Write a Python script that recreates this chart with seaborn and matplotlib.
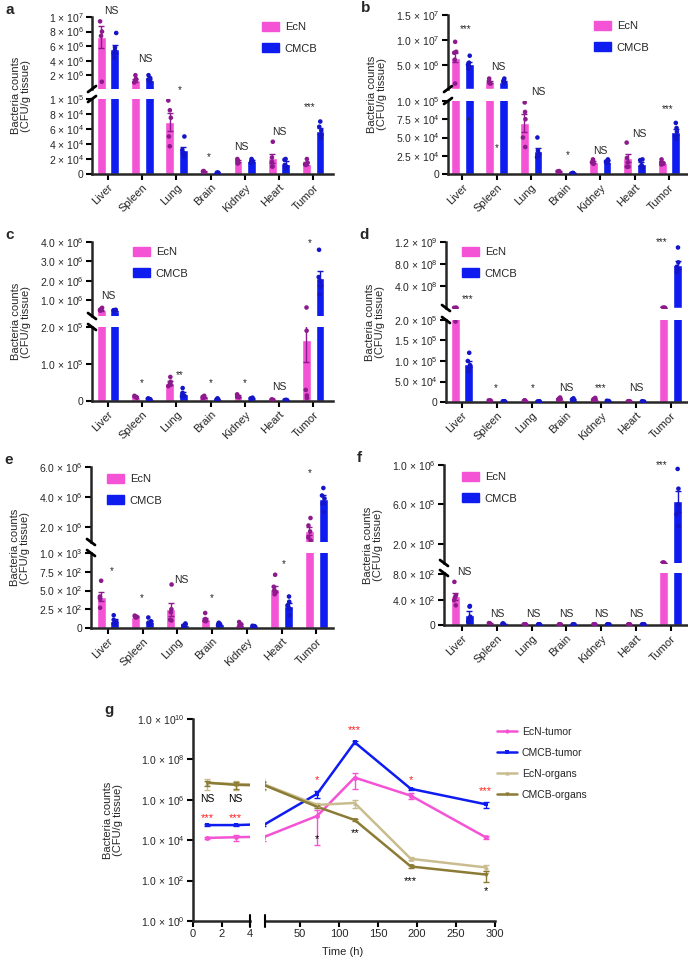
import numpy as np
import pandas as pd
import matplotlib
matplotlib.use("Agg")
import matplotlib.pyplot as plt
import seaborn as sns
from matplotlib.patches import Patch
from matplotlib.lines import Line2D
from matplotlib.ticker import NullLocator

# ------------------------------------------------------------------
# data
# ------------------------------------------------------------------
organs = ["Liver", "Spleen", "Lung", "Brain", "Kidney", "Heart", "Tumor"]
groups = ["EcN", "CMCB"]

# panel a
a_ecn_mean = [7.3e6, 1.3e6, 7.0e4, 3.0e3, 1.7e4, 2.1e4, 1.4e4]
a_cmcb_mean = [5.6e6, 1.3e6, 3.2e4, 1.5e3, 1.7e4, 1.4e4, 5.7e4]
a_ecn_err = [1.5e6, 2e5, 1.2e4, 5e2, 1.5e3, 6e3, 1.5e3]
a_cmcb_err = [5e5, 1.5e5, 4e3, 3e2, 1.5e3, 3e3, 4e3]
a_ecn_pts = [
    [9.4e6, 8.0e6, 7.4e6, 1.1e6],
    [2.0e6, 1.5e6, 1.4e6, 1.2e6, 1.0e6],
    [9.8e4, 8.5e4, 7.5e4, 5.0e4, 3.7e4],
    [4.0e3, 3.5e3, 3.0e3, 2.5e3, 2.0e3],
    [2.0e4, 1.8e4, 1.7e4, 1.5e4, 1.4e4],
    [4.3e4, 2.2e4, 1.6e4, 1.0e4, 1.0e4],
    [2.0e4, 1.5e4, 1.4e4, 1.3e4, 1.2e4],
]
a_cmcb_pts = [
    [7.8e6, 5.8e6, 5.4e6, 5.0e6, 4.4e6],
    [2.0e6, 1.6e6, 1.4e6, 1.3e6, 1.1e6],
    [5.0e4, 3.2e4, 2.8e4, 2.5e4, 2.3e4],
    [2.0e3, 1.5e3, 1.5e3, 1.0e3, 1.0e3],
    [2.0e4, 1.8e4, 1.7e4, 1.6e4, 1.5e4],
    [2.0e4, 1.9e4, 1.2e4, 1.0e4, 8.0e3],
    [7.0e4, 6.3e4, 5.8e4, 5.2e4, 4.8e4],
]

# panel b
b_ecn_mean = [6.4e6, 1.5e6, 7.0e4, 3.0e3, 1.6e4, 2.2e4, 1.5e4]
b_cmcb_mean = [5.2e6, 1.6e6, 3.2e4, 1.0e3, 1.7e4, 1.4e4, 5.7e4]
b_ecn_err = [9e5, 1.5e5, 1.2e4, 5e2, 1.5e3, 6e3, 1.5e3]
b_cmcb_err = [4e5, 1e5, 4e3, 3e2, 1.5e3, 3e3, 4e3]
b_ecn_pts = [
    [9.6e6, 7.6e6, 7.4e6, 6.0e6, 1.2e6],
    [2.2e6, 1.6e6, 1.5e6, 1.3e6, 1.2e6],
    [9.8e4, 8.5e4, 7.5e4, 5.0e4, 3.7e4],
    [4.0e3, 3.5e3, 3.0e3, 2.5e3, 2.0e3],
    [2.0e4, 1.8e4, 1.6e4, 1.5e4, 1.4e4],
    [4.3e4, 2.2e4, 1.6e4, 1.0e4, 1.0e4],
    [2.0e4, 1.6e4, 1.5e4, 1.4e4, 1.3e4],
]
b_cmcb_pts = [
    [6.8e6, 5.4e6, 5.0e6, 4.8e6, 4.2e6],
    [2.2e6, 1.8e6, 1.6e6, 1.5e6, 1.4e6],
    [5.0e4, 3.2e4, 2.8e4, 2.5e4, 2.3e4],
    [1.5e3, 1.2e3, 1.0e3, 8.0e2, 6.0e2],
    [2.0e4, 1.8e4, 1.7e4, 1.6e4, 1.5e4],
    [2.0e4, 1.9e4, 1.2e4, 1.0e4, 8.0e3],
    [7.0e4, 6.3e4, 5.8e4, 5.2e4, 4.8e4],
]

# panel c
c_ecn_mean = [4.9e5, 1.1e4, 4.9e4, 1.0e4, 1.3e4, 3.0e3, 1.65e5]
c_cmcb_mean = [4.6e5, 5.0e3, 1.9e4, 5.0e3, 6.0e3, 2.5e3, 2.15e6]
c_ecn_err = [3e4, 1e3, 5e3, 1e3, 2e3, 5e2, 6e4]
c_cmcb_err = [2e4, 5e2, 4e3, 5e2, 1e3, 3e2, 3.5e5]
c_ecn_pts = [
    [6.2e5, 5.6e5, 5.3e5, 5.0e5, 4.8e5],
    [1.4e4, 1.2e4, 1.1e4, 1.0e4, 9.0e3],
    [6.5e4, 5.2e4, 4.8e4, 4.4e4, 4.0e4],
    [1.4e4, 1.1e4, 1.0e4, 9.0e3, 8.0e3],
    [1.8e4, 1.4e4, 1.3e4, 1.1e4, 1.0e4],
    [4.0e3, 3.5e3, 3.0e3, 2.5e3, 2.0e3],
    [6.5e5, 1.9e5, 3.0e4, 1.5e4, 8.0e3],
]
c_cmcb_pts = [
    [5.2e5, 5.0e5, 4.8e5, 4.6e5, 4.5e5],
    [7.0e3, 6.0e3, 5.0e3, 4.0e3, 4.0e3],
    [3.5e4, 2.2e4, 1.7e4, 1.4e4, 1.2e4],
    [7.0e3, 6.0e3, 5.0e3, 4.0e3, 3.0e3],
    [9.0e3, 7.0e3, 6.0e3, 5.0e3, 4.0e3],
    [3.0e3, 2.5e3, 2.5e3, 2.0e3, 2.0e3],
    [3.6e6, 2.2e6, 2.0e6, 1.7e6, 1.3e6],
]

# panel d
d_ecn_mean = [2.2e6, 3.0e3, 3.0e3, 8.0e3, 7.0e3, 1.5e3, 3.0e6]
d_cmcb_mean = [9.3e4, 1.5e3, 1.0e3, 6.0e3, 2.0e3, 1.0e3, 7.8e8]
d_ecn_err = [4e5, 3e2, 3e2, 1e3, 1e3, 2e2, 3e5]
d_cmcb_err = [8e3, 2e2, 2e2, 1e3, 3e2, 2e2, 7e7]
d_ecn_pts = [
    [3.0e6, 2.8e6, 2.5e6, 2.3e6, 1.98e5],
    [4.0e3, 3.5e3, 3.0e3, 2.5e3, 2.0e3],
    [4.0e3, 3.5e3, 3.0e3, 2.5e3, 2.0e3],
    [1.1e4, 9.0e3, 8.0e3, 7.0e3, 6.0e3],
    [1.0e4, 8.0e3, 7.0e3, 6.0e3, 5.0e3],
    [2.0e3, 1.5e3, 1.5e3, 1.0e3, 1.0e3],
    [3.8e6, 3.3e6, 3.0e6, 2.7e6, 2.2e6],
]
d_cmcb_pts = [
    [1.2e5, 1.0e5, 9.0e4, 8.0e4, 7.5e4],
    [2.0e3, 1.5e3, 1.5e3, 1.0e3, 1.0e3],
    [1.5e3, 1.0e3, 1.0e3, 8.0e2, 8.0e2],
    [9.0e3, 7.0e3, 6.0e3, 5.0e3, 4.0e3],
    [3.0e3, 2.5e3, 2.0e3, 1.5e3, 1.0e3],
    [1.5e3, 1.0e3, 1.0e3, 8.0e2, 8.0e2],
    [1.1e9, 8.3e8, 7.5e8, 7.0e8, 6.5e8],
]

# panel e
e_ecn_mean = [420, 150, 250, 120, 40, 520, 1.75e6]
e_cmcb_mean = [95, 80, 40, 50, 20, 295, 3.85e6]
e_ecn_err = [60, 8, 90, 20, 15, 40, 2.5e5]
e_cmcb_err = [20, 15, 8, 8, 4, 40, 3e5]
e_ecn_pts = [
    [630, 420, 400, 390, 270],
    [165, 155, 150, 145, 140],
    [580, 250, 210, 110, 100],
    [200, 120, 110, 100, 90],
    [80, 50, 30, 20, 20],
    [710, 550, 500, 480, 450],
    [2.6e6, 2.1e6, 1.7e6, 1.3e6, 1.1e6],
]
e_cmcb_pts = [
    [170, 110, 90, 60, 50],
    [140, 90, 70, 60, 50],
    [60, 50, 40, 30, 20],
    [70, 55, 50, 45, 35],
    [30, 25, 20, 15, 10],
    [420, 350, 300, 260, 170],
    [4.6e6, 4.1e6, 3.9e6, 3.6e6, 3.0e6],
]

# panel f
f_ecn_mean = [450, 20, 8, 8, 8, 8, 8.0e3]
f_cmcb_mean = [165, 15, 8, 8, 8, 8, 6.3e5]
f_ecn_err = [60, 4, 1, 1, 1, 1, 5e2]
f_cmcb_err = [50, 3, 1, 1, 1, 1, 1.1e5]
f_ecn_pts = [
    [680, 470, 440, 390, 310],
    [30, 25, 20, 15, 10],
    [10, 9, 8, 7, 6],
    [10, 9, 8, 7, 6],
    [10, 9, 8, 7, 6],
    [10, 9, 8, 7, 6],
    [9.0e3, 8.5e3, 8.0e3, 7.5e3, 7.0e3],
]
f_cmcb_pts = [
    [300, 290, 130, 60, 50],
    [25, 20, 15, 10, 5],
    [10, 9, 8, 7, 6],
    [10, 9, 8, 7, 6],
    [10, 9, 8, 7, 6],
    [10, 9, 8, 7, 6],
    [9.6e5, 7.6e5, 6.0e5, 5.0e5, 3.8e5],
]

# y ticks of the broken axes (top part, bottom part)
a_top_ticks = [2e6, 4e6, 6e6, 8e6, 1e7]
a_top_labels = ["2 × 10$^{6}$", "4 × 10$^{6}$", "6 × 10$^{6}$", "8 × 10$^{6}$", "1 × 10$^{7}$"]
a_bot_ticks = [0, 2e4, 4e4, 6e4, 8e4, 1e5]
a_bot_labels = ["0", "2 × 10$^{4}$", "4 × 10$^{4}$", "6 × 10$^{4}$", "8 × 10$^{4}$", "1 × 10$^{5}$"]
b_top_ticks = [5e6, 1e7, 1.5e7]
b_top_labels = ["5.0 × 10$^{6}$", "1.0 × 10$^{7}$", "1.5 × 10$^{7}$"]
b_bot_ticks = [0, 2.5e4, 5e4, 7.5e4, 1e5]
b_bot_labels = ["0", "2.5 × 10$^{4}$", "5.0 × 10$^{4}$", "7.5 × 10$^{4}$", "1.0 × 10$^{5}$"]
c_top_ticks = [1e6, 2e6, 3e6, 4e6]
c_top_labels = ["1.0 × 10$^{6}$", "2.0 × 10$^{6}$", "3.0 × 10$^{6}$", "4.0 × 10$^{6}$"]
c_bot_ticks = [0, 1e5, 2e5]
c_bot_labels = ["0", "1.0 × 10$^{5}$", "2.0 × 10$^{5}$"]
d_top_ticks = [4e8, 8e8, 1.2e9]
d_top_labels = ["4.0 × 10$^{8}$", "8.0 × 10$^{8}$", "1.2 × 10$^{9}$"]
d_bot_ticks = [0, 5e4, 1e5, 1.5e5, 2e5]
d_bot_labels = ["0", "5.0 × 10$^{4}$", "1.0 × 10$^{5}$", "1.5 × 10$^{5}$", "2.0 × 10$^{5}$"]
e_top_ticks = [2e6, 4e6, 6e6]
e_top_labels = ["2.0 × 10$^{6}$", "4.0 × 10$^{6}$", "6.0 × 10$^{6}$"]
e_bot_ticks = [0, 250, 500, 750, 1000]
e_bot_labels = ["0", "2.5 × 10$^{2}$", "5.0 × 10$^{2}$", "7.5 × 10$^{2}$", "1.0 × 10$^{3}$"]
f_top_ticks = [2e5, 6e5, 1e6]
f_top_labels = ["2.0 × 10$^{5}$", "6.0 × 10$^{5}$", "1.0 × 10$^{6}$"]
f_bot_ticks = [0, 400, 800]
f_bot_labels = ["0", "4.0 × 10$^{2}$", "8.0 × 10$^{2}$"]

# significance marks: (text, category position, value, part)
a_notes = [("NS", 0.1, 1.08e7, "t"), ("NS", 1.08, 4.2e6, "t"), ("*", 2.1, 1.12e5, "b"),
           ("*", 2.95, 2.2e4, "b"), ("NS", 3.9, 3.6e4, "b"), ("NS", 5.0, 5.6e4, "b"),
           ("***", 5.9, 8.9e4, "b")]
b_notes = [("***", 0.1, 1.22e7, "t"), ("NS", 1.05, 4.6e6, "t"), ("NS", 2.2, 1.12e5, "b"),
           ("*", 3.05, 2.6e4, "b"), ("NS", 4.0, 3.2e4, "b"), ("NS", 5.15, 5.5e4, "b"),
           ("***", 5.97, 8.9e4, "b"), ("*", 0.2, 7.3e4, "b"), ("*", 1.0, 3.6e4, "b")]
c_notes = [("NS", 0.0, 1.25e6, "t"), ("*", 1.0, 4.9e4, "b"), ("**", 2.1, 6.9e4, "b"),
           ("*", 3.0, 4.9e4, "b"), ("*", 4.0, 4.9e4, "b"), ("NS", 5.0, 3.8e4, "b"),
           ("*", 5.9, 3.95e6, "t")]
d_notes = [("***", 0.17, 1.6e8, "t"), ("*", 0.98, 3.3e4, "b"), ("*", 2.04, 3.3e4, "b"),
           ("NS", 3.0, 3.3e4, "b"), ("***", 4.0, 3.3e4, "b"), ("NS", 5.0, 3.3e4, "b"),
           ("***", 5.75, 1.2e9, "t")]
e_notes = [("*", 0.12, 760, "b"), ("*", 0.98, 400, "b"), ("NS", 2.1, 640, "b"),
           ("*", 3.0, 400, "b"), ("*", 5.05, 850, "b"), ("*", 5.8, 5.6e6, "t")]
f_notes = [("NS", 0.06, 830, "b"), ("NS", 1.0, 170, "b"), ("NS", 2.04, 170, "b"),
           ("NS", 3.0, 170, "b"), ("NS", 4.0, 170, "b"), ("NS", 5.0, 170, "b"),
           ("***", 5.75, 1.0e6, "t")]

# panel g
g_series = ["EcN-tumor", "CMCB-tumor", "EcN-organs", "CMCB-organs"]
g_time = [1, 3, 72, 120, 192, 288]
ecn_tumor = [1.3e4, 1.4e4, 1.6e5, 1.26e7, 1.6e6, 1.4e4]
ecn_tumor_err = [2e3, 5e3, 1.54e5, 9e6, 5e5, 2e3]
cmcb_tumor = [5.6e4, 5.6e4, 2.0e6, 7.0e8, 3.5e6, 6.0e5]
cmcb_tumor_err = [5e3, 5e3, 8e5, 1e8, 5e5, 2e5]
ecn_organs = [7.0e6, 6.0e6, 5.6e5, 7.0e5, 1.2e3, 4.5e2]
ecn_organs_err = [4e6, 3e6, 1e5, 3e5, 2e2, 1.5e2]
cmcb_organs = [7.0e6, 5.5e6, 4.5e5, 1.0e5, 5.0e2, 2.0e2]
cmcb_organs_err = [2e6, 2e6, 5e4, 1e4, 1e2, 1.1e2]
g_yticks = [1e0, 1e2, 1e4, 1e6, 1e8, 1e10]
g_ylabels = ["1.0 × 10$^{0}$", "1.0 × 10$^{2}$", "1.0 × 10$^{4}$", "1.0 × 10$^{6}$",
             "1.0 × 10$^{8}$", "1.0 × 10$^{10}$"]
g_notes = [("***", 1, 1.3e5, "red"), ("***", 3, 1.3e5, "red"), ("NS", 1, 1.1e6, "black"),
           ("NS", 3, 1.1e6, "black"), ("*", 72, 9e6, "red"), ("***", 120, 2.8e9, "red"),
           ("*", 192, 9e6, "red"), ("***", 288, 2.8e6, "red"), ("*", 72, 1.1e4, "black"),
           ("**", 120, 2.2e4, "black"), ("***", 192, 1.0e2, "black"), ("*", 288, 3e1, "black")]

# ------------------------------------------------------------------
# style
# ------------------------------------------------------------------
sns.set_theme(style="ticks")
plt.rcParams["font.family"] = ["Liberation Sans", "DejaVu Sans"]
plt.rcParams["mathtext.fontset"] = "custom"
plt.rcParams["mathtext.rm"] = "Liberation Sans"
plt.rcParams["mathtext.default"] = "regular"
plt.rcParams["axes.linewidth"] = 1.8
np.random.seed(7)

pink, blue = "#f553d5", "#0f1cf0"
bar_colors = [pink, blue]
dot_colors = ["#8c1a8c", "#1414c8"]
g_colors = [pink, blue, "#c9bd8f", "#8b7b35"]
g_markers = ["o", "s", "^", "v"]

W, H = 688, 960
fig = plt.figure(figsize=(W / 100, H / 100), dpi=100)


def box(x0, y0, x1, y1):
    return [x0 / W, 1 - y1 / H, (x1 - x0) / W, (y1 - y0) / H]


def seg(x0, y0, x1, y1, lw=1.8):
    fig.add_artist(Line2D([x0 / W, x1 / W], [1 - y0 / H, 1 - y1 / H], lw=lw,
                          color="black", transform=fig.transFigure))


def style_ticks(ax):
    ax.tick_params(length=4, width=1.5, labelsize=7.5, pad=2, color="black")


def bar_panel(letter, sx, rx, ty0, ty1, by0, by1, xlim, means, errs, pts,
              top_lim, top_t, top_l, bot_lim, bot_t, bot_l, notes, leg, slash):
    ax_t = fig.add_axes(box(sx, ty0, rx, ty1))
    ax_b = fig.add_axes(box(sx, by0, rx, by1))
    mean_df = pd.DataFrame({"organ": organs * 2, "group": ["EcN"] * 7 + ["CMCB"] * 7,
                            "value": list(means[0]) + list(means[1])})
    rows = [(o, g, v) for g, grp in zip(groups, pts) for o, vals in zip(organs, grp) for v in vals]
    pts_df = pd.DataFrame(rows, columns=["organ", "group", "value"])
    x = np.arange(len(organs))
    for ax, (lo, hi) in ((ax_t, top_lim), (ax_b, bot_lim)):
        sns.barplot(data=mean_df, x="organ", y="value", hue="group", order=organs,
                    hue_order=groups, palette=bar_colors, saturation=1, width=0.8,
                    gap=0.35, errorbar=None, legend=False, ax=ax)
        # only the marks that fall inside this part of the broken axis
        for k in range(2):
            m, e = np.array(means[k]), np.array(errs[k])
            keep = (m > lo) & (m <= hi)
            if keep.any():
                ax.errorbar((x + (k - 0.5) * 0.4)[keep], m[keep], yerr=e[keep], fmt="none",
                            ecolor=dot_colors[k], elinewidth=1, capsize=2.2, capthick=1,
                            zorder=4)
        part = pts_df[(pts_df["value"] > lo) & (pts_df["value"] <= hi)]
        sns.stripplot(data=part, x="organ", y="value", hue="group", order=organs,
                      hue_order=groups, palette=dot_colors, dodge=True, jitter=0.08,
                      size=3.3, linewidth=0, legend=False, ax=ax, zorder=3)
        ax.set_xlim(*xlim)
        ax.set_ylim(lo, hi)
        ax.set_xlabel("")
        ax.set_ylabel("")
        sns.despine(ax=ax)
        style_ticks(ax)
    ax_t.spines["bottom"].set_visible(False)
    ax_t.tick_params(axis="x", bottom=False, labelbottom=False)
    ax_t.set_yticks(top_t, top_l)
    ax_b.set_yticks(bot_t, bot_l)
    ax_b.set_xticks(x)
    ax_b.set_xticklabels(organs, rotation=45, ha="right", rotation_mode="anchor", fontsize=8)
    for txt, xp, yv, part in notes:
        ax = ax_t if part == "t" else ax_b
        ax.text(xp, yv, txt, ha="center", va="center", fontsize=7.5 if txt == "NS" else 7,
                clip_on=False, zorder=5)
    # break marks on the y axis
    for yy in (ty1, by0):
        if slash == "/":
            seg(sx - 4, yy + 3, sx + 4, yy - 3, lw=2)
        else:
            seg(sx - 4, yy - 3, sx + 4, yy + 3, lw=2)
    fig.legend(handles=[Patch(color=pink, label="EcN"), Patch(color=blue, label="CMCB")],
               loc="upper left", bbox_to_anchor=(leg[0] / W, 1 - leg[1] / H), frameon=False,
               fontsize=8, handlelength=1.5, handleheight=0.85, labelspacing=1.0,
               handletextpad=0.55, borderaxespad=0, borderpad=0)
    fig.text((sx - 71) / W, 1 - (ty0 + by1) / 2 / H, "Bacteria counts\n(CFU/g tissue)",
             rotation=90, ha="center", va="center", fontsize=8, multialignment="center",
             linespacing=1.1)
    fig.text((sx - 87) / W, 1 - (ty0 - 7) / H, letter, fontsize=11, fontweight="bold",
             ha="left", va="center")


bar_panel("a", 92, 333, 17, 89, 99, 174, (-0.47, 6.58),
          (a_ecn_mean, a_cmcb_mean), (a_ecn_err, a_cmcb_err), (a_ecn_pts, a_cmcb_pts),
          (1e5, 1e7), a_top_ticks, a_top_labels, (0, 1e5), a_bot_ticks, a_bot_labels,
          a_notes, (262, 22), "/")
bar_panel("b", 448, 687, 15, 89, 101, 174, (-0.41, 6.52),
          (b_ecn_mean, b_cmcb_mean), (b_ecn_err, b_cmcb_err), (b_ecn_pts, b_cmcb_pts),
          (1e5, 1.5e7), b_top_ticks, b_top_labels, (0, 1e5), b_bot_ticks, b_bot_labels,
          b_notes, (594, 21), "/")
bar_panel("c", 92, 333, 242, 316, 327, 401, (-0.47, 6.58),
          (c_ecn_mean, c_cmcb_mean), (c_ecn_err, c_cmcb_err), (c_ecn_pts, c_cmcb_pts),
          (2e5, 4e6), c_top_ticks, c_top_labels, (0, 2e5), c_bot_ticks, c_bot_labels,
          c_notes, (133, 247), "\\")
bar_panel("d", 446, 687, 242, 308, 320, 402, (-0.46, 6.47),
          (d_ecn_mean, d_cmcb_mean), (d_ecn_err, d_cmcb_err), (d_ecn_pts, d_cmcb_pts),
          (2e5, 1.2e9), d_top_ticks, d_top_labels, (0, 2e5), d_bot_ticks, d_bot_labels,
          d_notes, (462, 247), "\\")
bar_panel("e", 91, 333, 467, 542, 553, 628, (-0.49, 6.48),
          (e_ecn_mean, e_cmcb_mean), (e_ecn_err, e_cmcb_err), (e_ecn_pts, e_cmcb_pts),
          (1e6, 6e6), e_top_ticks, e_top_labels, (0, 1e3), e_bot_ticks, e_bot_labels,
          e_notes, (107, 474), "\\")
bar_panel("f", 444, 687, 465, 563, 573, 625, (-0.52, 6.47),
          (f_ecn_mean, f_cmcb_mean), (f_ecn_err, f_cmcb_err), (f_ecn_pts, f_cmcb_pts),
          (6e3, 1e6), f_top_ticks, f_top_labels, (0, 820), f_bot_ticks, f_bot_labels,
          f_notes, (462, 472), "\\")

# ------------------------------------------------------------------
# panel g: broken time axis, log counts
# ------------------------------------------------------------------
g_vals = [ecn_tumor, cmcb_tumor, ecn_organs, cmcb_organs]
g_errs = [ecn_tumor_err, cmcb_tumor_err, ecn_organs_err, cmcb_organs_err]
g_df = pd.DataFrame({
    "time": g_time * 4,
    "value": [v for vals in g_vals for v in vals],
    "series": [s for s in g_series for _ in g_time],
})

ax_g1 = fig.add_axes(box(193, 719, 250, 921))
ax_g2 = fig.add_axes(box(265, 719, 495, 921))
for ax, xl in ((ax_g1, (0, 4)), (ax_g2, (5, 300))):
    sns.lineplot(data=g_df, x="time", y="value", hue="series", hue_order=g_series,
                 palette=g_colors, style="series", style_order=g_series,
                 markers=dict(zip(g_series, g_markers)), dashes=False, markersize=3.5,
                 markeredgewidth=0, linewidth=1.8, errorbar=None, legend=False, ax=ax)
    for c, vals, errs in zip(g_colors, g_vals, g_errs):
        ax.errorbar(g_time, vals, yerr=errs, fmt="none", ecolor=c, elinewidth=1,
                    capsize=2.5, capthick=1)
    ax.set_yscale("log")
    ax.set_ylim(1, 1e10)
    ax.set_xlim(*xl)
    ax.set_xlabel("")
    ax.set_ylabel("")
    ax.yaxis.set_minor_locator(NullLocator())
    sns.despine(ax=ax)
    style_ticks(ax)
    ax.tick_params(labelsize=8)

ax_g1.set_xticks([0, 2, 4])
ax_g1.set_yticks(g_yticks, g_ylabels)
ax_g1.tick_params(axis="y", labelsize=7.5)
ax_g2.set_xticks([50, 100, 150, 200, 250, 300])
ax_g2.spines["left"].set_visible(False)
ax_g2.tick_params(axis="y", left=False, labelleft=False)
seg(250, 915, 250, 927, lw=1.5)
seg(265, 915, 265, 927, lw=1.5)

for txt, t, yv, col in g_notes:
    ax = ax_g1 if t < 4 else ax_g2
    ax.text(t, yv, txt, ha="center", va="center", color="#ff1f1f" if col == "red" else "black",
            fontsize=7.5 if txt == "NS" else 8, clip_on=False)

fig.legend(handles=[Line2D([], [], color=c, lw=1.8, marker=m, markersize=3, markeredgewidth=0)
                    for c, m in zip(g_colors, g_markers)],
           labels=g_series, loc="upper left", bbox_to_anchor=(497 / W, 1 - 727 / H),
           frameon=False, fontsize=7.5, handlelength=1.9, labelspacing=1.05,
           handletextpad=0.5, borderaxespad=0, borderpad=0)
fig.text(113 / W, 1 - 820 / H, "Bacteria counts\n(CFU/g tissue)", rotation=90, ha="center",
         va="center", fontsize=8, multialignment="center", linespacing=1.1)
fig.text(343 / W, 1 - 952 / H, "Time (h)", ha="center", va="center", fontsize=8)
fig.text(104 / W, 1 - 710 / H, "g", fontsize=11, fontweight="bold", ha="left", va="center")

fig.savefig("out.png", dpi=100)
